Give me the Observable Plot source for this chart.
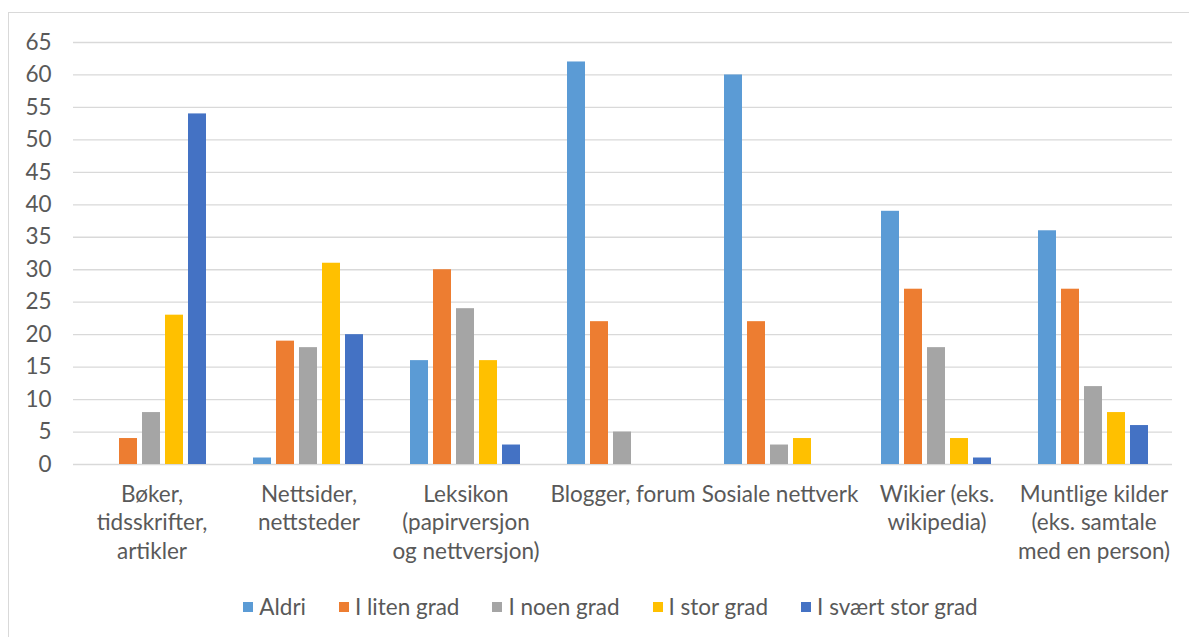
<!DOCTYPE html>
<html>
<head>
<meta charset="utf-8">
<script src="https://cdn.jsdelivr.net/npm/d3@7"></script>
<script src="https://cdn.jsdelivr.net/npm/@observablehq/plot@0.6"></script>
<style>
  html, body { margin: 0; padding: 0; background: #fff; }
  #wrap { position: relative; width: 1189px; height: 637px; overflow: hidden; font-family: "Lato", sans-serif; color: #595959; }
  #frame { position: absolute; left: 8px; top: 12px; width: 1200px; height: 700px; border: 1px solid #d9d9d9; box-sizing: border-box; }
  #chart { position: absolute; left: 0; top: 0; }
  #legend { position: absolute; left: 46px; width: 1129px; top: 592px; display: flex; justify-content: center; gap: 33px; font-size: 22.5px; line-height: 30px; }
  #legend .item { display: flex; align-items: center; white-space: nowrap; }
  #legend .sw { width: 10px; height: 10px; margin-right: 6px; display: inline-block; }
</style>
</head>
<body>
<div id="wrap">
  <div id="frame"></div>
  <div id="chart"></div>
  <div id="legend"></div>
</div>
<script>
// Source categories (tick labels carry their own line breaks)
const categories = [
  "Bøker,\ntidsskrifter,\nartikler",
  "Nettsider,\nnettsteder",
  "Leksikon\n(papirversjon\nog nettversjon)",
  "Blogger, forum",
  "Sosiale nettverk",
  "Wikier (eks.\nwikipedia)",
  "Muntlige kilder\n(eks. samtale\nmed en person)"
];

// Answer options (series)
const series = ["Aldri", "I liten grad", "I noen grad", "I stor grad", "I svært stor grad"];
const seriesColors = ["#5B9BD5", "#ED7D31", "#A5A5A5", "#FFC000", "#4472C4"];

// Counts per category, one array per series
const aldri         = [0, 1, 16, 62, 60, 39, 36];
const litenGrad     = [4, 19, 30, 22, 22, 27, 27];
const noenGrad      = [8, 18, 24, 5, 3, 18, 12];
const storGrad      = [23, 31, 16, 0, 4, 4, 8];
const sværtStorGrad = [54, 20, 3, 0, 0, 1, 6];

// Y-axis tick values
const yTicks = [0, 5, 10, 15, 20, 25, 30, 35, 40, 45, 50, 55, 60, 65];

const seriesValues = [aldri, litenGrad, noenGrad, storGrad, sværtStorGrad];
const rows = [];
categories.forEach((c, i) => {
  series.forEach((s, j) => rows.push({category: c, series: s, value: seriesValues[j][i]}));
});

const chart = Plot.plot({
  width: 1189,
  height: 590,
  marginTop: 42,
  marginBottom: 126,
  marginLeft: 73,
  marginRight: 17,
  style: {fontFamily: "Lato, sans-serif", fontSize: "22.5px", color: "#595959", background: "transparent"},
  fx: {domain: categories, padding: 0, label: null},
  x: {domain: series, paddingInner: 0.2083, paddingOuter: 0.875, axis: null},
  y: {domain: [0, 65], label: null},
  color: {domain: series, range: seriesColors},
  marks: [
    Plot.gridY(yTicks, {stroke: "#d9d9d9", strokeOpacity: 1, strokeWidth: 1.3}),
    Plot.barY(rows, {fx: "category", x: "series", y: "value", fill: "series"}),
    Plot.axisY(yTicks, {anchor: "left", tickSize: 0, tickPadding: 22, fontSize: 22.5, label: null}),
    Plot.axisFx({anchor: "bottom", tickSize: 0, tickPadding: 17, fontSize: 22.5, lineHeight: 1.27, label: null})
  ]
});
document.getElementById("chart").appendChild(chart);

// Legend below the chart
const legend = d3.select("#legend");
series.forEach((s, j) => {
  const item = legend.append("div").attr("class", "item");
  item.append("span").attr("class", "sw").style("background", seriesColors[j]);
  item.append("span").text(s);
});
</script>
</body>
</html>
